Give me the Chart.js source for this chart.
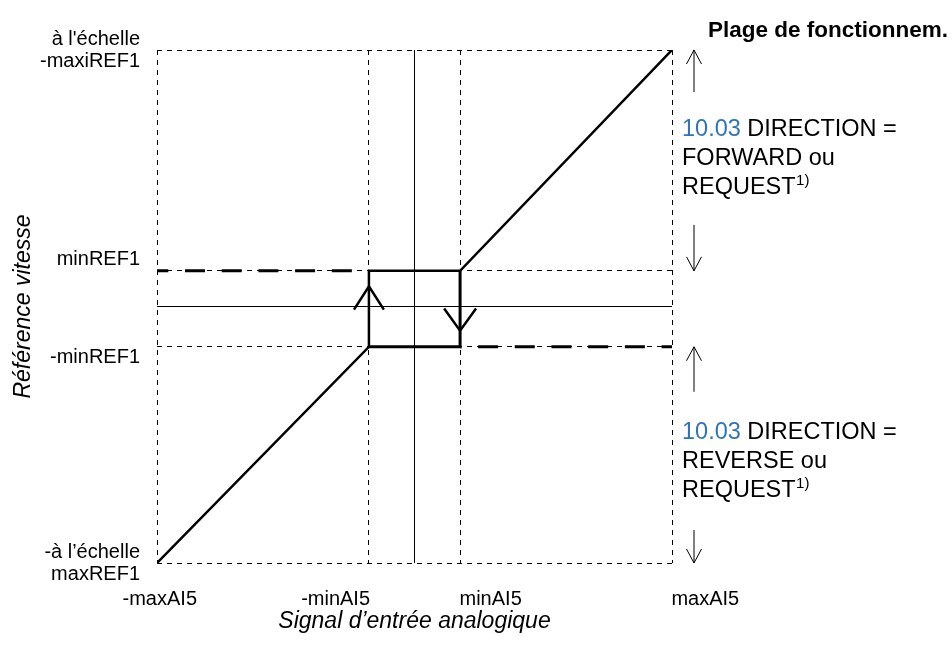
<!DOCTYPE html>
<html>
<head>
<meta charset="utf-8">
<script src="https://cdn.jsdelivr.net/npm/chart.js@4.4.1/dist/chart.umd.min.js"></script>
<style>
  html, body { margin: 0; padding: 0; background: #ffffff; }
  #wrap { width: 952px; height: 646px; }
</style>
</head>
<body>
<div id="wrap"><canvas id="c" width="952" height="646"></canvas></div>
<script>
// ---------------- data (schematic units: ±10 = full scale) ----------------
const xLevels     = [-10, -1.77, 1.77, 10];
const xTickLabels = ['-maxAI5', '-minAI5', 'minAI5', 'maxAI5'];
const yLevels     = [-10, -1.57, 1.39, 10];
const yTickLabels = [['-à l’échelle', 'maxREF1'], ['', '-minREF1'], ['minREF1', ''], ["à l'échelle", '-maxiREF1']];

// speed reference characteristic (with hysteresis box)
const curveX = [-10, -1.77, -1.77, 1.77, 10];
const curveY = [-10, -1.57, 1.39, 1.39, 10];
const hystX  = [1.77, 1.77, -1.77];
const hystY  = [1.39, -1.57, -1.57];
// hysteresis direction arrowheads
const upHeadX   = [-2.35, -1.77, -1.19];
const upHeadY   = [-0.12, 0.79, -0.12];
const downHeadX = [1.15, 1.77, 2.39];
const downHeadY = [-0.08, -0.94, -0.08];
// minimum-reference extensions (heavy dashed)
const minRefExtX    = [-10, -1.77];
const minRefExtY    = [1.39, 1.39];
const negMinRefExtX = [1.77, 10];
const negMinRefExtY = [-1.57, -1.57];
// zero axes
const zeroVX = [0, 0],   zeroVY = [-10, 10];
const zeroHX = [-10, 10], zeroHY = [0, 0];

const titleText = 'Plage de fonctionnem.';
const upperNote = [[['10.03', 'blue'], [' DIRECTION =', '']], [['FORWARD ou', '']], [['REQUEST', ''], ['1)', 'sup']]];
const lowerNote = [[['10.03', 'blue'], [' DIRECTION =', '']], [['REVERSE ou', '']], [['REQUEST', ''], ['1)', 'sup']]];
const xAxisTitle = 'Signal d’entrée analogique';
const yAxisTitle = 'Référence vitesse';

// ---------------- helpers ----------------
const FONT = "'Liberation Sans', Arial, Helvetica, sans-serif";
const pts = (xs, ys) => xs.map((x, i) => ({ x: x, y: ys[i] }));

// per-tick horizontal label alignment emulated with padding spaces
const xLabelAlign = ['center', 'end', 'start', 'start'];
const measureCtx = document.createElement('canvas').getContext('2d');
measureCtx.font = '20px ' + FONT;
function alignLabel(txt, mode) {
  if (mode === 'center') return ' ' + txt;
  const n = Math.round(measureCtx.measureText(txt).width / measureCtx.measureText(' ').width);
  const pad = ' '.repeat(n);
  return mode === 'end' ? txt + pad : pad + txt;
}

function line(data, width, dash, dashOffset) {
  return {
    data: data, showLine: true, borderColor: '#000', backgroundColor: '#000',
    borderWidth: width, borderDash: dash || [], borderDashOffset: dashOffset || 0,
    pointRadius: 0, pointHoverRadius: 0, fill: false, tension: 0,
    borderCapStyle: 'butt', borderJoinStyle: 'miter'
  };
}

// ---------------- annotations outside the plot ----------------
function arrow(ctx, x, yFrom, yTip) {
  const dir = Math.sign(yTip - yFrom);
  ctx.beginPath();
  ctx.moveTo(x, yFrom); ctx.lineTo(x, yTip);
  ctx.moveTo(x - 7.5, yTip - dir * 14); ctx.lineTo(x, yTip); ctx.lineTo(x + 7.5, yTip - dir * 14);
  ctx.stroke();
}
function drawNote(ctx, x, y0, lines) {
  ctx.textAlign = 'left';
  ctx.textBaseline = 'alphabetic';
  lines.forEach((parts, li) => {
    let cx = x;
    const y = y0 + li * 29;
    parts.forEach(([t, kind]) => {
      if (kind === 'sup') {
        ctx.font = '15px ' + FONT; ctx.fillStyle = '#000';
        ctx.fillText(t, cx + 0.5, y - 9);
        cx += ctx.measureText(t).width;
      } else {
        ctx.font = '23.5px ' + FONT;
        ctx.fillStyle = kind === 'blue' ? '#2F74BA' : '#000';
        ctx.fillText(t, cx, y);
        cx += ctx.measureText(t).width;
      }
    });
  });
}
const annotations = {
  id: 'annotations',
  afterDraw(chart) {
    const ctx = chart.ctx, ys = chart.scales.y, area = chart.chartArea;
    const yTop = ys.getPixelForValue(yLevels[3]);
    const yMin = ys.getPixelForValue(yLevels[2]);
    const yNeg = ys.getPixelForValue(yLevels[1]);
    const yBot = ys.getPixelForValue(yLevels[0]);
    const ax = area.right + 22, tx = area.right + 10;
    ctx.save();
    ctx.fillStyle = '#000';
    ctx.font = 'bold 22.5px ' + FONT;
    ctx.textAlign = 'left'; ctx.textBaseline = 'alphabetic';
    ctx.fillText(titleText, area.right + 36, yTop - 13);

    ctx.strokeStyle = '#000'; ctx.lineWidth = 1;
    arrow(ctx, ax, yTop + 42, yTop);
    arrow(ctx, ax, yMin - 46, yMin);
    arrow(ctx, ax, yNeg + 45, yNeg);
    arrow(ctx, ax, yBot - 33, yBot);

    drawNote(ctx, tx, yTop + 86, upperNote);
    drawNote(ctx, tx, yNeg + 92, lowerNote);
    ctx.restore();
  }
};

// ---------------- chart ----------------
new Chart(document.getElementById('c'), {
  type: 'scatter',
  data: {
    datasets: [
      line(pts(zeroVX, zeroVY), 1),
      line(pts(zeroHX, zeroHY), 1),
      line(pts(minRefExtX, minRefExtY), 3, [20, 16.7], 8.7),
      line(pts(negMinRefExtX, negMinRefExtY), 3, [20, 16.7], 18.7),
      line(pts(curveX, curveY), 2.5),
      line(pts(hystX, hystY), 3),
      line(pts(upHeadX, upHeadY), 2.5),
      line(pts(downHeadX, downHeadY), 2.5)
    ]
  },
  options: {
    responsive: false,
    animation: false,
    devicePixelRatio: 1,
    layout: { padding: { left: 0, top: 50, right: 280, bottom: 0 } },
    plugins: { legend: { display: false }, tooltip: { enabled: false }, title: { display: false } },
    scales: {
      x: {
        type: 'linear', min: -10, max: 10,
        afterBuildTicks: s => { s.ticks = xLevels.map(v => ({ value: v })); },
        afterFit: s => { s.height = 83; },
        grid: { color: '#000', lineWidth: 1, drawTicks: false },
        border: { display: false, dash: [5, 5] },
        ticks: {
          color: '#000', padding: 24, maxRotation: 0, autoSkip: false,
          font: { family: FONT, size: 20, lineHeight: 1.2 },
          callback: (v, i) => alignLabel(xTickLabels[i], xLabelAlign[i])
        },
        title: {
          display: true, text: xAxisTitle, color: '#000',
          font: { family: FONT, size: 23, style: 'italic', lineHeight: 1.2 },
          padding: { top: 0, bottom: 11 }
        }
      },
      y: {
        type: 'linear', min: -10, max: 10,
        afterBuildTicks: s => { s.ticks = yLevels.map(v => ({ value: v })); },
        afterFit: s => { s.width = 157; },
        grid: { color: '#000', lineWidth: 1, drawTicks: false },
        border: { display: false, dash: [5, 5] },
        ticks: {
          color: '#000', padding: 17, autoSkip: false,
          font: { family: FONT, size: 20, lineHeight: 1.1 },
          callback: (v, i) => yTickLabels[i]
        },
        title: {
          display: true, text: yAxisTitle, color: '#000',
          font: { family: FONT, size: 23, style: 'italic', lineHeight: 1.2 },
          padding: { top: 10, bottom: 0 }
        }
      }
    }
  },
  plugins: [annotations]
});
</script>
</body>
</html>
